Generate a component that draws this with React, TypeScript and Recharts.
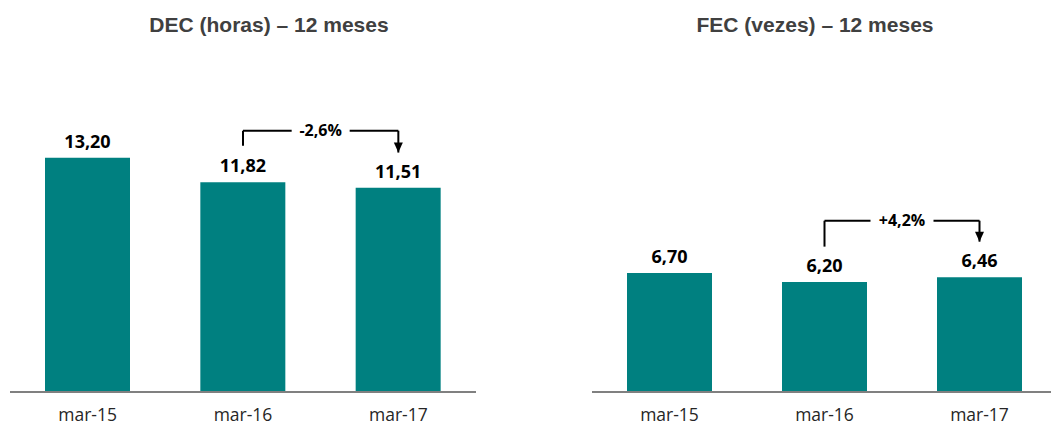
import React from 'react';
import { BarChart, Bar, XAxis, YAxis, LabelList, ReferenceLine, ReferenceDot } from 'recharts';

const categories = ['mar-15', 'mar-16', 'mar-17'];
const decValues = [13.2, 11.82, 11.51];
const fecValues = [6.7, 6.2, 6.46];
const titles = ['DEC (horas) – 12 meses', 'FEC (vezes) – 12 meses'];
const changes = ['-2,6%', '+4,2%'];
// bracket: [from category, to category], levels: [start, horizontal, arrow tip]
const bracketCats = ['mar-16', 'mar-17'];
const decBracketLevels = [13.88, 14.72, 13.49];
const fecBracketLevels = [8.19, 9.65, 8.47];

const Y_MAX = 18;
const BAR_COLOR = '#008080';
const LABEL_FONT = "'Open Sans', sans-serif";

const fmt = (v: number) => v.toFixed(2).replace('.', ',');

const makeGapLabel = (text: string, gap: number) => (props: any) => {
  const vb = props.viewBox || {};
  const cx = (vb.x || 0) + (vb.width || 0) / 2;
  const cy = (vb.y || 0) + (vb.height || 0) / 2;
  return (
    <g>
      <rect x={cx - gap / 2} y={cy - 6} width={gap} height={12} fill="#ffffff" />
      <text x={cx} y={cy} dy="0.35em" textAnchor="middle" fontFamily={LABEL_FONT} fontWeight={700} fontSize={16} fill="#000">
        {text}
      </text>
    </g>
  );
};

const ArrowHead = (props: any) => {
  const { cx, cy } = props;
  return <polygon points={`${cx - 4.5},${cy - 10} ${cx + 4.5},${cy - 10} ${cx},${cy}`} fill="#000" />;
};

function Panel({ values, levels, change, gap, left, width, marginLeft, marginRight }: any) {
  const data = categories.map((c, i) => ({ name: c, value: values[i] }));
  const [from, to] = bracketCats;
  const [start, level, tip] = levels;
  return (
    <div style={{ position: 'absolute', left, top: 0 }}>
      <BarChart width={width} height={428} data={data} margin={{ top: 72.5, right: marginRight, left: marginLeft, bottom: 0 }}>
        <YAxis hide domain={[0, Y_MAX]} />
        <XAxis
          dataKey="name"
          height={36}
          axisLine={{ stroke: '#808080', strokeWidth: 2 }}
          tickLine={false}
          tickSize={0}
          tickMargin={17}
          tick={{ fill: '#262626', fontSize: 17.5, fontFamily: LABEL_FONT }}
        />
        <Bar dataKey="value" fill={BAR_COLOR} barSize={85} isAnimationActive={false}>
          <LabelList
            dataKey="value"
            position="top"
            offset={10}
            formatter={(v: any) => fmt(Number(v))}
            fill="#000"
            fontSize={18}
            fontWeight={700}
            fontFamily={LABEL_FONT}
          />
        </Bar>
        <ReferenceLine segment={[{ x: from, y: start }, { x: from, y: level }]} stroke="#000" strokeWidth={2} />
        <ReferenceLine
          segment={[{ x: from, y: level }, { x: to, y: level }]}
          stroke="#000"
          strokeWidth={2}
          label={makeGapLabel(change, gap)}
        />
        <ReferenceLine segment={[{ x: to, y: level }, { x: to, y: tip }]} stroke="#000" strokeWidth={2} />
        <ReferenceDot x={to} y={tip} r={5} shape={ArrowHead} />
      </BarChart>
    </div>
  );
}

const titleStyle: React.CSSProperties = {
  position: 'absolute',
  top: 10,
  width: 400,
  textAlign: 'center',
  fontFamily: "'Liberation Sans', Arial, sans-serif",
  fontWeight: 700,
  fontSize: 21,
  color: '#404040',
  lineHeight: '30px',
  whiteSpace: 'nowrap',
};

export default function App() {
  return (
    <div style={{ position: 'absolute', left: 0, top: 0, width: 1051, height: 428, overflow: 'hidden', background: '#fff' }}>
      <div style={{ ...titleStyle, left: 269 - 200 }}>{titles[0]}</div>
      <div style={{ ...titleStyle, left: 815 - 200 }}>{titles[1]}</div>
      <Panel values={decValues} levels={decBracketLevels} change={changes[0]} gap={58} left={0} width={490} marginLeft={10} marginRight={14} />
      <Panel values={fecValues} levels={fecBracketLevels} change={changes[1]} gap={63} left={580} width={477} marginLeft={12} marginRight={0} />
    </div>
  );
}
